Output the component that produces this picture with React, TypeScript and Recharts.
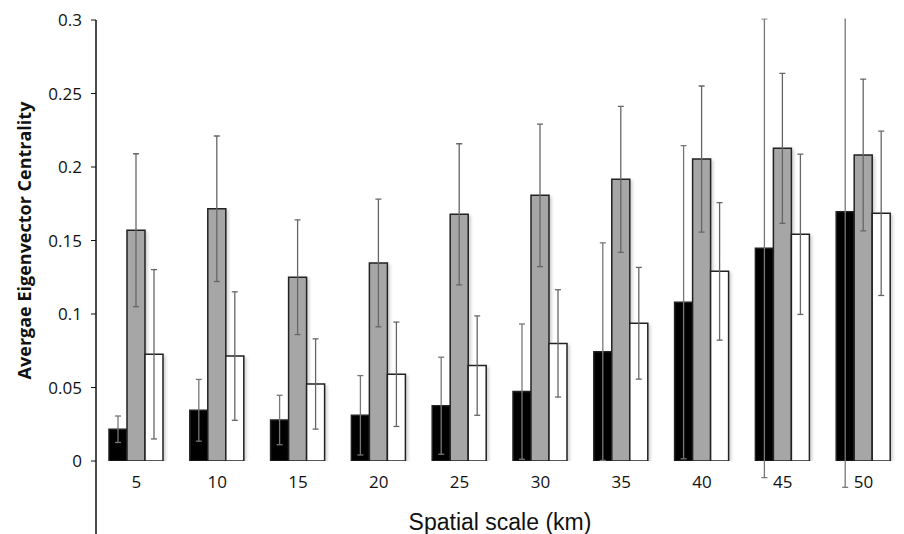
import React from 'react';
import {
  BarChart,
  Bar,
  XAxis,
  YAxis,
  ErrorBar,
  ReferenceLine,
} from 'recharts';

// spatial scale categories (km)
const categories = ['5', '10', '15', '20', '25', '30', '35', '40', '45', '50'];

// black bars
const series1 = [0.0216, 0.0345, 0.0279, 0.0311, 0.0376, 0.0472, 0.0744, 0.108, 0.1447, 0.1696];
const err1 = [0.009, 0.021, 0.0168, 0.027, 0.033, 0.046, 0.074, 0.1065, 0.156, 0.1875];

// grey bars
const series2 = [0.157, 0.1716, 0.125, 0.1347, 0.1678, 0.1807, 0.1916, 0.2054, 0.2127, 0.2082];
const err2 = [0.052, 0.0495, 0.039, 0.0434, 0.048, 0.0485, 0.0497, 0.0497, 0.051, 0.0516];

// white bars
const series3 = [0.0726, 0.0714, 0.0524, 0.059, 0.0649, 0.08, 0.0937, 0.129, 0.1542, 0.1685];
const err3 = [0.0576, 0.0437, 0.0307, 0.0355, 0.0338, 0.0365, 0.038, 0.0468, 0.0545, 0.0559];

const yTicks = [0, 0.05, 0.1, 0.15, 0.2, 0.25, 0.3];
const edgeTicks = [0, 1, 2, 3, 4, 5, 6, 7, 8, 9, 10];

const data = categories.map((name, i) => ({
  name,
  s1: series1[i],
  e1: err1[i],
  s2: series2[i],
  e2: err2[i],
  s3: series3[i],
  e3: err3[i],
}));

const W = 904;
const H = 534;
const TOP = 20;
const FONT = '"Open Sans", "Noto Sans", sans-serif';

const YLabel = (props: any) => {
  const { viewBox } = props;
  const x = viewBox.x + 24;
  const y = viewBox.y + viewBox.height / 2;
  return (
    <text
      x={x}
      y={y}
      transform={`rotate(-90, ${x}, ${y})`}
      textAnchor="middle"
      dominantBaseline="central"
      fontFamily={FONT}
      fontSize={18}
      fontWeight={700}
      fill="#111"
    >
      Avergae Eigenvector Centrality
    </text>
  );
};

export default function App() {
  return (
    <div style={{ width: W, height: H, background: '#fff' }}>
      <style>{'body{margin:0;overflow:hidden;} .recharts-errorBars{clip-path:url(#errClip);}'}</style>
      <BarChart
        width={W}
        height={H}
        data={data}
        margin={{ top: TOP, right: 0, left: 0, bottom: 0 }}
        barGap={0}
        barSize={18}
        style={{ fontFamily: FONT }}
      >
        <defs>
          <filter id="barShadow" x="-20%" y="-5%" width="150%" height="115%">
            <feDropShadow dx="2" dy="2" stdDeviation="1.5" floodColor="#000" floodOpacity="0.18" />
          </filter>
          <clipPath id="errClip" clipPathUnits="userSpaceOnUse">
            <rect x={0} y={TOP - 1.5} width={W} height={H - TOP + 1.5} />
          </clipPath>
        </defs>
        <XAxis
          xAxisId="edges"
          type="number"
          domain={[0, 10]}
          allowDataOverflow
          ticks={edgeTicks}
          tick={false}
          height={0}
          tickSize={5}
          stroke="#aaa"
          axisLine={{ stroke: '#aaa', strokeWidth: 1.5 }}
          tickLine={{ stroke: '#aaa' }}
        />
        <XAxis
          dataKey="name"
          axisLine={false}
          tickLine={false}
          tickSize={6}
          tickMargin={9}
          height={H - 461}
          tick={{ fill: '#111', fontSize: 17 }}
          label={{
            value: 'Spatial scale (km)',
            position: 'insideBottom',
            offset: 4,
            fill: '#111',
            fontSize: 23,
            fontFamily: '"Liberation Sans", Arial, sans-serif',
          }}
        />
        <YAxis
          domain={[0, 0.3]}
          allowDataOverflow
          ticks={yTicks}
          width={96}
          tickSize={5}
          tickMargin={9}
          axisLine={{ stroke: '#111', strokeWidth: 1.5 }}
          tickLine={{ stroke: '#111' }}
          tick={{ fill: '#111', fontSize: 17 }}
          label={<YLabel />}
        />
        <ReferenceLine
          xAxisId="edges"
          segment={[
            { x: 0, y: 0 },
            { x: 0, y: -0.05 },
          ]}
          stroke="#111"
          strokeWidth={1.5}
          ifOverflow="visible"
        />
        <Bar dataKey="s1" fill="#000" stroke="#222" strokeWidth={1.5} filter="url(#barShadow)" isAnimationActive={false}>
          <ErrorBar dataKey="e1" width={3} stroke="#777" strokeWidth={1.3} clipPath="url(#errClip)" />
        </Bar>
        <Bar dataKey="s2" fill="#a6a6a6" stroke="#222" strokeWidth={1.5} filter="url(#barShadow)" isAnimationActive={false}>
          <ErrorBar dataKey="e2" width={3} stroke="#666" strokeWidth={1.3} clipPath="url(#errClip)" />
        </Bar>
        <Bar dataKey="s3" fill="#fff" stroke="#222" strokeWidth={1.5} filter="url(#barShadow)" isAnimationActive={false}>
          <ErrorBar dataKey="e3" width={3} stroke="#666" strokeWidth={1.3} clipPath="url(#errClip)" />
        </Bar>
      </BarChart>
    </div>
  );
}
